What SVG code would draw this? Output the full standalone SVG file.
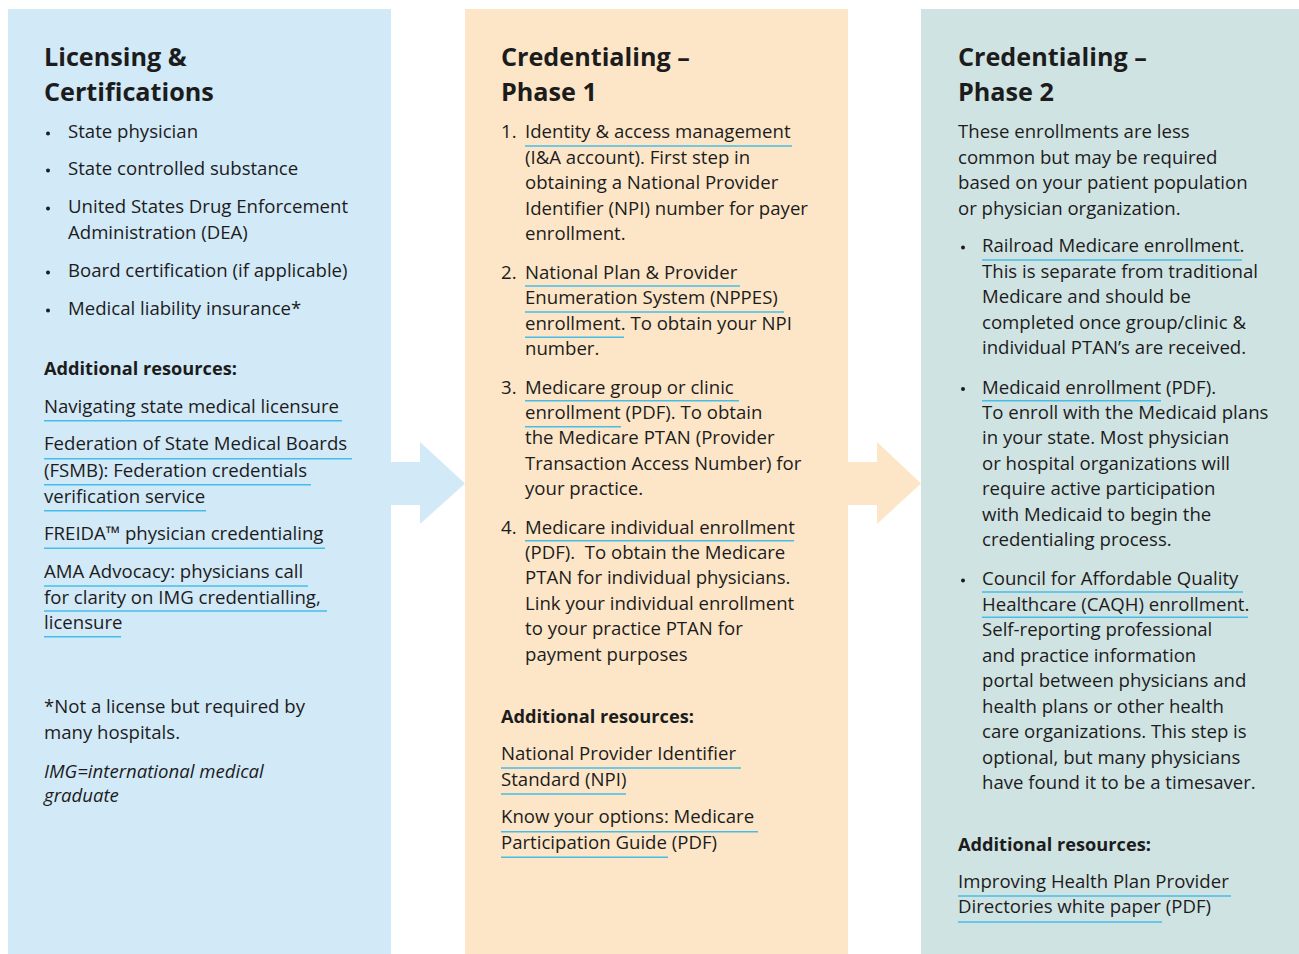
<svg xmlns="http://www.w3.org/2000/svg" width="1299" height="954" viewBox="0 0 1299 954">
<style>
text{font-family:"Open Sans","Liberation Sans",sans-serif;fill:#1c1c1c}
.h{font-size:25.2px;font-weight:700}
.t{font-size:18.6px}
.b{font-size:18.2px;font-weight:700}
.i{font-size:18.6px;font-style:italic}
.dot{fill:#1c1c1c}
.u{stroke:#45bde9;stroke-width:1.4;fill:none}
</style>
<rect width="1299" height="954" fill="#ffffff"/>
<g id="connectors">
<polygon points="391,462 420,462 420,442 465,483.5 420,524 420,505 391,505" fill="#d2e9f8"/>
<polygon points="848,462 877,462 877,442 921,483.5 877,524 877,505 848,505" fill="#fde6c8"/>
</g>
<g id="panel-licensing">
<rect x="8" y="9" width="383" height="945" fill="#d2e9f8"/>
<text class="h" x="44" y="66">Licensing &amp;</text>
<text class="h" x="44" y="101">Certifications</text>
<circle class="dot" cx="48" cy="133.5" r="2"/><text class="t" x="68" y="138">State physician</text>
<circle class="dot" cx="48" cy="170.5" r="2"/><text class="t" x="68" y="175">State controlled substance</text>
<circle class="dot" cx="48" cy="208.5" r="2"/><text class="t" x="68" y="213">United States Drug Enforcement</text>
<text class="t" x="68" y="239">Administration (DEA)</text>
<circle class="dot" cx="48" cy="272.5" r="2"/><text class="t" x="68" y="277">Board certification (if applicable)</text>
<circle class="dot" cx="48" cy="310.5" r="2"/><text class="t" x="68" y="315">Medical liability insurance*</text>
<text class="b" x="44" y="375">Additional resources:</text>
<text class="t" x="44" y="413">Navigating state medical licensure</text>
<text class="t" x="44" y="450">Federation of State Medical Boards</text>
<text class="t" x="44" y="476.5">(FSMB): Federation credentials</text>
<text class="t" x="44" y="502.5">verification service</text>
<text class="t" x="44" y="540">FREIDA™ physician credentialing</text>
<text class="t" x="44" y="578">AMA Advocacy: physicians call</text>
<text class="t" x="44" y="603.5">for clarity on IMG credentialling,</text>
<text class="t" x="44" y="628.5">licensure</text>
<path class="u" d="M44 420.7H342M44 458.7H352M44 484.7H311M44 510.7H206M44 548.3H325M44 586H308M44 611H327M44 636.7H121"/>
<text class="t" x="44" y="713">*Not a license but required by</text>
<text class="t" x="44" y="739">many hospitals.</text>
<text class="i" x="44" y="778">IMG=international medical</text>
<text class="i" x="44" y="802">graduate</text>
</g>
<g id="panel-phase1">
<rect x="465" y="9" width="383" height="945" fill="#fde6c8"/>
<text class="h" x="501" y="66">Credentialing –</text>
<text class="h" x="501" y="101">Phase 1</text>
<text class="t" x="501" y="138">1.</text>
<text class="t" x="525" y="138">Identity &amp; access management</text>
<text class="t" x="525" y="163.5">(I&amp;A account). First step in</text>
<text class="t" x="525" y="189">obtaining a National Provider</text>
<text class="t" x="525" y="214.5">Identifier (NPI) number for payer</text>
<text class="t" x="525" y="240">enrollment.</text>
<text class="t" x="501" y="278.5">2.</text>
<text class="t" x="525" y="278.5">National Plan &amp; Provider</text>
<text class="t" x="525" y="304">Enumeration System (NPPES)</text>
<text class="t" x="525" y="329.5">enrollment. To obtain your NPI</text>
<text class="t" x="525" y="355">number.</text>
<text class="t" x="501" y="393.5">3.</text>
<text class="t" x="525" y="393.5">Medicare group or clinic</text>
<text class="t" x="525" y="419">enrollment (PDF). To obtain</text>
<text class="t" x="525" y="444">the Medicare PTAN (Provider</text>
<text class="t" x="525" y="469.5">Transaction Access Number) for</text>
<text class="t" x="525" y="495">your practice.</text>
<text class="t" x="501" y="533.5">4.</text>
<text class="t" x="525" y="533.5">Medicare individual enrollment</text>
<text class="t" x="525" y="558.5" xml:space="preserve">(PDF).  To obtain the Medicare</text>
<text class="t" x="525" y="584">PTAN for individual physicians.</text>
<text class="t" x="525" y="609.5">Link your individual enrollment</text>
<text class="t" x="525" y="635">to your practice PTAN for</text>
<text class="t" x="525" y="660.5">payment purposes</text>
<text class="b" x="501" y="723">Additional resources:</text>
<text class="t" x="501" y="760">National Provider Identifier</text>
<text class="t" x="501" y="786">Standard (NPI)</text>
<text class="t" x="501" y="823">Know your options: Medicare</text>
<text class="t" x="501" y="849">Participation Guide (PDF)</text>
<path class="u" d="M525 146H792M525 286H740M525 312H784M525 337.3H624M525 400.7H739M525 426.7H621M525 540.7H794M501 768H741M501 794H626M501 831.7H758M501 857.3H668"/>
</g>
<g id="panel-phase2">
<rect x="921" y="9" width="378" height="945" fill="#d0e3e3"/>
<text class="h" x="958" y="66">Credentialing –</text>
<text class="h" x="958" y="101">Phase 2</text>
<text class="t" x="958" y="138">These enrollments are less</text>
<text class="t" x="958" y="163.5">common but may be required</text>
<text class="t" x="958" y="189">based on your patient population</text>
<text class="t" x="958" y="214.5">or physician organization.</text>
<circle class="dot" cx="963" cy="247.5" r="2"/>
<text class="t" x="982" y="252">Railroad Medicare enrollment.</text>
<text class="t" x="982" y="277.5">This is separate from traditional</text>
<text class="t" x="982" y="303">Medicare and should be</text>
<text class="t" x="982" y="328.5">completed once group/clinic &amp;</text>
<text class="t" x="982" y="354">individual PTAN’s are received.</text>
<circle class="dot" cx="963" cy="389" r="2"/>
<text class="t" x="982" y="393.5">Medicaid enrollment (PDF).</text>
<text class="t" x="982" y="419">To enroll with the Medicaid plans</text>
<text class="t" x="982" y="444">in your state. Most physician</text>
<text class="t" x="982" y="469.5">or hospital organizations will</text>
<text class="t" x="982" y="495">require active participation</text>
<text class="t" x="982" y="520.5">with Medicaid to begin the</text>
<text class="t" x="982" y="546">credentialing process.</text>
<circle class="dot" cx="963" cy="580.5" r="2"/>
<text class="t" x="982" y="585">Council for Affordable Quality</text>
<text class="t" x="982" y="610.5">Healthcare (CAQH) enrollment.</text>
<text class="t" x="982" y="636">Self-reporting professional</text>
<text class="t" x="982" y="661.5">and practice information</text>
<text class="t" x="982" y="687">portal between physicians and</text>
<text class="t" x="982" y="712.5">health plans or other health</text>
<text class="t" x="982" y="738">care organizations. This step is</text>
<text class="t" x="982" y="763.5">optional, but many physicians</text>
<text class="t" x="982" y="789">have found it to be a timesaver.</text>
<text class="b" x="958" y="850.5">Additional resources:</text>
<text class="t" x="958" y="887.5">Improving Health Plan Provider</text>
<text class="t" x="958" y="913">Directories white paper (PDF)</text>
<path class="u" d="M982 260H1242M982 400.7H1161M982 592H1243M982 617.3H1248M958 896H1231M958 922H1162"/>
</g>
</svg>
